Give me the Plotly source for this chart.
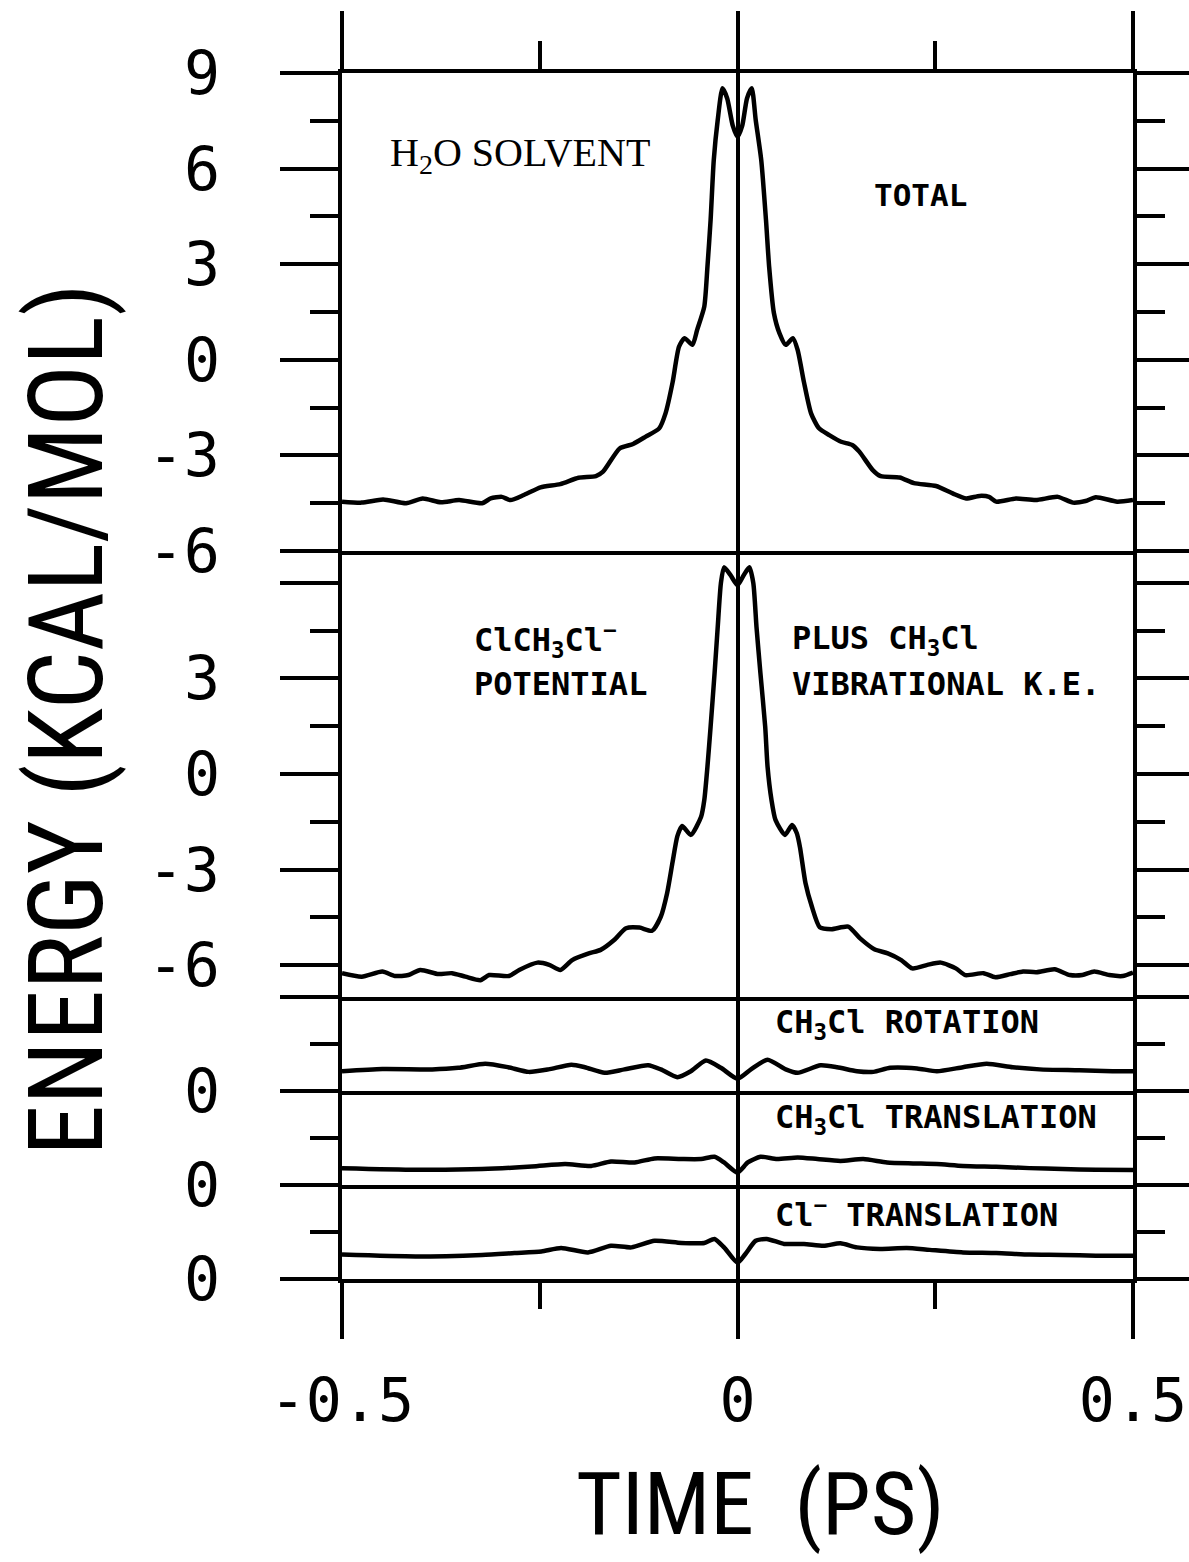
import plotly.graph_objects as go
from plotly.subplots import make_subplots

# ---------------- data ----------------
time_total = [-0.500, -0.475, -0.448, -0.419, -0.398, -0.375, -0.352, -0.323, -0.312, -0.298,
              -0.287, -0.270, -0.249, -0.224, -0.201, -0.179, -0.170, -0.149, -0.132, -0.116,
              -0.099, -0.091, -0.082, -0.074, -0.067, -0.057, -0.051, -0.042, -0.038, -0.034,
              -0.030, -0.025, -0.019, -0.013, -0.006, 0.000, 0.006, 0.012, 0.018, 0.023,
              0.030, 0.036, 0.040, 0.046, 0.053, 0.061, 0.070, 0.076, 0.084, 0.093,
              0.103, 0.116, 0.131, 0.145, 0.154, 0.171, 0.181, 0.205, 0.223, 0.251,
              0.272, 0.289, 0.306, 0.318, 0.327, 0.352, 0.377, 0.405, 0.424, 0.440,
              0.453, 0.480, 0.500]
energy_total = [-4.45, -4.48, -4.38, -4.50, -4.35, -4.47, -4.40, -4.50, -4.35, -4.30,
                -4.40, -4.24, -4.00, -3.90, -3.70, -3.65, -3.51, -2.78, -2.64, -2.41,
                -2.15, -1.68, -0.70, 0.41, 0.68, 0.47, 0.94, 1.67, 2.92, 4.39,
                6.27, 7.53, 8.52, 8.20, 7.35, 7.00, 7.35, 8.20, 8.52, 7.53,
                6.27, 4.39, 2.92, 1.47, 0.84, 0.47, 0.68, 0.31, -0.70, -1.68,
                -2.15, -2.36, -2.57, -2.67, -2.88, -3.46, -3.65, -3.69, -3.87, -3.96,
                -4.19, -4.35, -4.27, -4.30, -4.45, -4.35, -4.40, -4.30, -4.48, -4.43,
                -4.31, -4.45, -4.40]

time_pot = [-0.500, -0.475, -0.449, -0.433, -0.416, -0.401, -0.378, -0.361, -0.344, -0.325,
            -0.314, -0.289, -0.276, -0.253, -0.238, -0.224, -0.209, -0.188, -0.173, -0.156,
            -0.141, -0.124, -0.108, -0.097, -0.089, -0.082, -0.076, -0.070, -0.059, -0.046,
            -0.042, -0.038, -0.034, -0.029, -0.025, -0.021, -0.017, -0.009, 0.000, 0.008,
            0.015, 0.020, 0.024, 0.029, 0.035, 0.038, 0.043, 0.048, 0.060, 0.069,
            0.075, 0.079, 0.086, 0.094, 0.104, 0.119, 0.140, 0.155, 0.173, 0.190,
            0.207, 0.221, 0.240, 0.257, 0.276, 0.288, 0.311, 0.326, 0.345, 0.361,
            0.378, 0.401, 0.420, 0.436, 0.451, 0.470, 0.487, 0.500]
energy_pot = [-6.25, -6.36, -6.20, -6.34, -6.31, -6.15, -6.28, -6.25, -6.36, -6.47,
              -6.31, -6.34, -6.15, -5.92, -5.99, -6.15, -5.84, -5.63, -5.52, -5.21,
              -4.84, -4.82, -4.92, -4.48, -3.74, -2.75, -1.95, -1.63, -1.91, -1.34,
              -0.82, 0.23, 1.49, 3.16, 4.62, 5.99, 6.49, 6.25, 5.93, 6.25,
              6.49, 5.99, 4.62, 3.16, 1.49, 0.23, -0.82, -1.44, -1.91, -1.60,
              -1.86, -2.30, -3.43, -4.16, -4.81, -4.87, -4.79, -5.16, -5.50, -5.63,
              -5.84, -6.10, -5.99, -5.92, -6.10, -6.31, -6.25, -6.38, -6.28, -6.20,
              -6.22, -6.13, -6.31, -6.31, -6.20, -6.31, -6.34, -6.23]

time_rot = [-0.500, -0.449, -0.386, -0.353, -0.319, -0.290, -0.264, -0.239, -0.210, -0.193,
            -0.168, -0.143, -0.113, -0.097, -0.076, -0.059, -0.040, -0.021, 0.000, 0.017,
            0.038, 0.061, 0.076, 0.105, 0.126, 0.151, 0.172, 0.193, 0.227, 0.252,
            0.285, 0.315, 0.348, 0.382, 0.432, 0.474, 0.500]
energy_rot = [0.63, 0.70, 0.69, 0.74, 0.87, 0.76, 0.61, 0.69, 0.84, 0.76,
              0.58, 0.69, 0.82, 0.69, 0.44, 0.63, 0.97, 0.74, 0.39, 0.69,
              1.00, 0.69, 0.58, 0.82, 0.76, 0.63, 0.61, 0.74, 0.72, 0.63,
              0.76, 0.87, 0.76, 0.69, 0.66, 0.63, 0.63]

time_trans = [-0.500, -0.407, -0.323, -0.260, -0.218, -0.185, -0.160, -0.130, -0.105, -0.071,
              -0.046, -0.029, -0.017, 0.000, 0.013, 0.029, 0.050, 0.076, 0.101, 0.130,
              0.159, 0.189, 0.222, 0.252, 0.285, 0.327, 0.369, 0.411, 0.453, 0.500]
energy_trans = [0.54, 0.49, 0.51, 0.59, 0.67, 0.61, 0.75, 0.72, 0.85, 0.83,
                0.83, 0.90, 0.72, 0.40, 0.72, 0.90, 0.83, 0.88, 0.83, 0.77,
                0.83, 0.72, 0.69, 0.67, 0.61, 0.58, 0.54, 0.51, 0.49, 0.48]

time_cl = [-0.500, -0.407, -0.323, -0.282, -0.248, -0.223, -0.189, -0.160, -0.134, -0.105,
           -0.071, -0.042, -0.029, -0.017, 0.000, 0.010, 0.023, 0.037, 0.059, 0.084,
           0.109, 0.130, 0.151, 0.180, 0.214, 0.243, 0.285, 0.327, 0.369, 0.411,
           0.453, 0.500]
energy_cl = [0.78, 0.72, 0.77, 0.83, 0.88, 0.99, 0.85, 1.06, 1.01, 1.22,
             1.15, 1.15, 1.28, 1.01, 0.52, 0.80, 1.22, 1.28, 1.12, 1.12,
             1.06, 1.14, 1.01, 0.96, 0.99, 0.93, 0.85, 0.83, 0.78, 0.77,
             0.74, 0.74]

x_ticks = [-0.5, 0, 0.5]
x_ticktext = ["-0.5", "0", "0.5"]
x_minor = [-0.25, 0.25]

panel_ranges = [[-6, 9], [-7, 7], [0, 3], [0, 3], [0, 3]]
panel_ticks = [[-6, -3, 0, 3, 6, 9], [-6, -3, 0, 3, 6], [0, 3], [0, 3], [0, 3]]
panel_ticktext = [["-6", "-3", "0", "3", "6", "9"], ["-6", "-3", "0", "3", ""], ["0", ""], ["0", ""], ["0", ""]]
panel_minor = [[-4.5, -1.5, 1.5, 4.5, 7.5], [-4.5, -1.5, 1.5, 4.5], [1.5], [1.5], [1.5]]
panel_domains = [[0.6036, 1.0], [0.2338, 0.6036], [0.1559, 0.2338], [0.0779, 0.1559], [0.0, 0.0779]]

series = [(time_total, energy_total), (time_pot, energy_pot), (time_rot, energy_rot),
          (time_trans, energy_trans), (time_cl, energy_cl)]

# ---------------- figure ----------------
MONO = "DejaVu Sans Mono"
TITLE = "Roboto Condensed, DejaVu Sans Mono"

fig = make_subplots(rows=5, cols=1, shared_xaxes=True, vertical_spacing=0)

for i, (t, e) in enumerate(series):
    fig.add_trace(go.Scatter(x=t, y=e, mode="lines",
                             line=dict(color="black", width=4.5, shape="spline", smoothing=0.6),
                             showlegend=False, hoverinfo="skip"), row=i + 1, col=1)

for i in range(5):
    n = "" if i == 0 else str(i + 1)
    fig.layout["yaxis" + n].update(
        domain=panel_domains[i], range=panel_ranges[i], fixedrange=True,
        tickmode="array", tickvals=panel_ticks[i], ticktext=panel_ticktext[i],
        ticks="outside", ticklen=58, tickwidth=4, tickcolor="black",
        showline=True, linewidth=4, linecolor="black", mirror="ticks",
        showgrid=False, zeroline=False,
        tickfont=dict(family=MONO, size=60, color="black"), ticklabelstandoff=48,
        minor=dict(tickmode="array", tickvals=panel_minor[i], ticks="outside",
                   ticklen=28, tickwidth=4, tickcolor="black", showgrid=False),
    )
    xa = dict(range=[-0.5, 0.5], showline=True, linewidth=4, linecolor="black", mirror=False,
              side="bottom", showgrid=False, zeroline=True, zerolinecolor="black",
              zerolinewidth=4, ticks="", showticklabels=False)
    if i == 0:
        xa.update(side="top", mirror=True, ticks="outside", tickmode="array", tickvals=x_ticks,
                  ticklen=58, tickwidth=4, tickcolor="black",
                  minor=dict(tickmode="array", tickvals=x_minor, ticks="outside",
                             ticklen=28, tickwidth=4, tickcolor="black", showgrid=False))
    if i == 4:
        xa.update(ticks="outside", tickmode="array", tickvals=x_ticks,
                  ticktext=x_ticktext, showticklabels=True,
                  ticklen=56, tickwidth=4, tickcolor="black", ticklabelstandoff=10,
                  tickfont=dict(family=MONO, size=60, color="black"),
                  minor=dict(tickmode="array", tickvals=x_minor, ticks="outside",
                             ticklen=26, tickwidth=4, tickcolor="black", showgrid=False))
    fig.layout["xaxis" + n].update(**xa)

ann = []
def label(text, x, y, size, family, xanchor="left", angle=0, yanchor="middle"):
    ann.append(dict(text=text, x=x, y=y, xref="paper", yref="paper", xanchor=xanchor,
                    yanchor=yanchor, showarrow=False, textangle=angle,
                    font=dict(family=family, size=size, color="black")))

px2x = lambda p: (p - 342) / 791
px2y = lambda p: (1279 - p) / 1206

label("H<sub>2</sub>O SOLVENT", px2x(388), px2y(155), 40, "Liberation Serif, Times New Roman, serif")
label("<b>TOTAL</b>", px2x(872), px2y(195), 31, MONO)
label("<b>ClCH<sub>3</sub>Cl<sup>−</sup></b>", px2x(472), px2y(640), 32, MONO)
label("<b>POTENTIAL</b>", px2x(472), px2y(684), 32, MONO)
label("<b>PLUS CH<sub>3</sub>Cl</b>", px2x(790), px2y(640), 32, MONO)
label("<b>VIBRATIONAL K.E.</b>", px2x(790), px2y(684), 32, MONO)
label("<b>CH<sub>3</sub>Cl ROTATION</b>", px2x(773), px2y(1024), 32, MONO)
label("<b>CH<sub>3</sub>Cl TRANSLATION</b>", px2x(773), px2y(1119), 32, MONO)
label("<b>Cl<sup>−</sup> TRANSLATION</b>", px2x(773), px2y(1213), 32, MONO)
label("ENERGY (KCAL/MOL)", px2x(66), px2y(720), 103, TITLE, xanchor="center", angle=-90)
label("TIME  (PS)", px2x(760), px2y(1503), 88, TITLE, xanchor="center")

fig.update_layout(
    width=1189, height=1562,
    margin=dict(l=342, r=56, t=73, b=283, autoexpand=False),
    paper_bgcolor="white", plot_bgcolor="white",
    annotations=ann,
)

fig.write_html("out.html")
